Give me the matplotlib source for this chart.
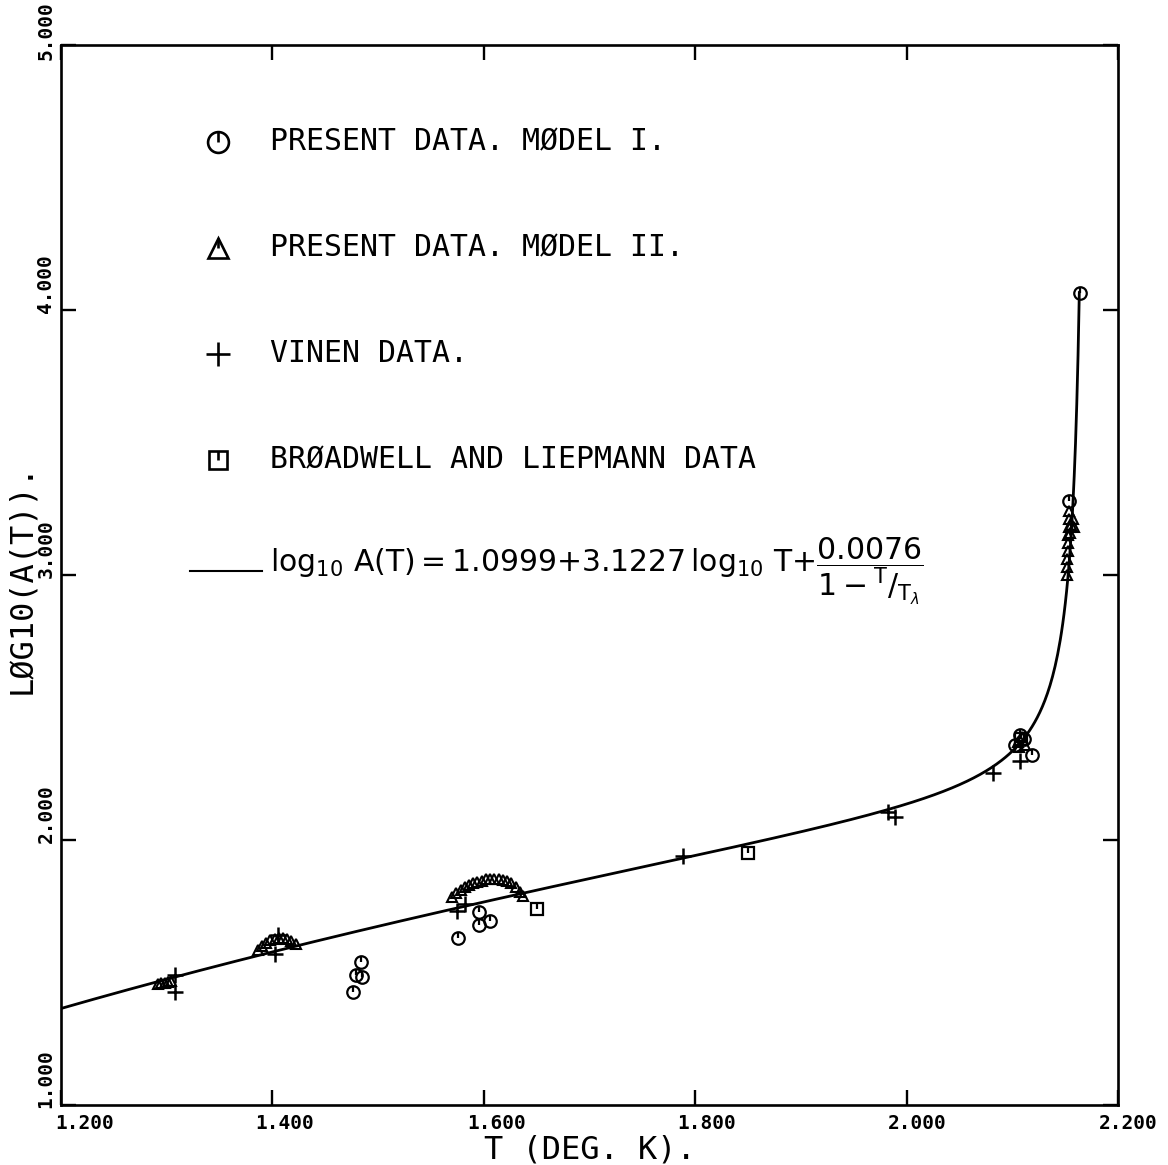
import numpy as np
import matplotlib
matplotlib.use('Agg')
import matplotlib.pyplot as plt
from matplotlib.path import Path
import matplotlib.transforms as mtransforms

plt.rcParams['font.family'] = ['DejaVu Sans Mono', 'DejaVu Sans']
plt.rcParams['mathtext.fontset'] = 'dejavusans'

# fit from the legend: log10 A = c0 + c1 log10 T + c2 / (1 - T/T_lambda)
c0, c1, c2, t_lambda = 1.0999, 3.1227, 0.0076, 2.172
t_start, t_end = 1.2, 2.1634

# present data, model I (circles)
m1_t = [1.476, 1.479, 1.484, 1.485, 1.576, 1.595, 1.595, 1.606,
        2.103, 2.107, 2.111, 2.119, 2.154, 2.164]
m1_y = [1.426, 1.490, 1.540, 1.483, 1.630, 1.728, 1.680, 1.694,
        2.360, 2.395, 2.380, 2.320, 3.280, 4.064]

# present data, model II (triangles)
m2_t = [1.292, 1.295, 1.298, 1.301, 1.304,
        1.386, 1.390, 1.394, 1.398, 1.402, 1.406, 1.410, 1.414, 1.418, 1.422,
        1.570, 1.574, 1.578, 1.582, 1.586, 1.590, 1.594, 1.598, 1.602,
        1.606, 1.610, 1.614, 1.618, 1.622, 1.626, 1.630, 1.634, 1.637,
        2.105, 2.106, 2.109, 2.112,
        2.1515, 2.1518, 2.1521, 2.1524, 2.1527, 2.1530, 2.1533, 2.1536, 2.1539,
        2.155, 2.156, 2.157, 2.158]
m2_y = [1.455, 1.460, 1.462, 1.465, 1.468,
        1.585, 1.600, 1.612, 1.622, 1.628, 1.631, 1.630, 1.626, 1.618, 1.606,
        1.785, 1.800, 1.812, 1.822, 1.830, 1.836, 1.842, 1.847, 1.851,
        1.853, 1.854, 1.853, 1.850, 1.845, 1.836, 1.822, 1.805, 1.790,
        2.370, 2.350, 2.390, 2.360,
        3.00, 3.03, 3.06, 3.09, 3.12, 3.15, 3.18, 3.21, 3.24,
        3.16, 3.19, 3.21, 3.18]

# Vinen data (plus)
vin_t = [1.308, 1.308, 1.405, 1.402, 1.575, 1.582, 1.788, 1.982, 1.989, 2.082, 2.107]
vin_y = [1.490, 1.426, 1.642, 1.570, 1.732, 1.758, 1.940, 2.105, 2.087, 2.253, 2.300]

# Broadwell and Liepmann data (squares)
bl_t = [1.650, 1.850, 2.108]
bl_y = [1.740, 1.950, 2.380]

x_ticks = [1.2, 1.4, 1.6, 1.8, 2.0, 2.2]
x_tick_labels = ['1.200', '1.400', '1.600', '1.800', '2.000', '2.200']
y_ticks = [1.0, 2.0, 3.0, 4.0, 5.0]
y_tick_labels = ['1.000', '2.000', '3.000', '4.000', '5.000']

tick_mark = Path([(0, 0), (0, 1)], [Path.MOVETO, Path.LINETO])


def symbol(ax, x, y, marker, ms, lw, tick=True):
    ax.plot(x, y, linestyle='none', marker=marker, ms=ms, mfc='none',
            mec='black', mew=lw, zorder=3)
    if tick:
        ax.plot(x, y, linestyle='none', marker=tick_mark, ms=ms, mfc='none',
                mec='black', mew=lw, zorder=3)


fig = plt.figure(figsize=(11.68, 11.65), dpi=100)
ax = fig.add_axes([61 / 1168, 60 / 1165, 1057 / 1168, 1060 / 1165])
ax.set_xlim(1.2, 2.2)
ax.set_ylim(1.0, 5.0)
for s in ax.spines.values():
    s.set_linewidth(1.9)

ax.set_xticks(x_ticks)
ax.set_yticks(y_ticks)
ax.tick_params(direction='in', length=11, width=1.7, top=True, right=True,
               labelbottom=False, labelleft=False)

# tick labels, plotter style
xt = mtransforms.blended_transform_factory(ax.transData, ax.transAxes)
x_shift = [0.022, 0.012, 0.012, 0.011, 0.010, 0.010]
for v, lab, dx in zip(x_ticks, x_tick_labels, x_shift):
    ax.text(v + dx, -0.017, lab, transform=xt, ha='center', va='center',
            fontsize=14, fontweight='bold', clip_on=False)
yt = mtransforms.blended_transform_factory(ax.transAxes, ax.transData)
y_shift = [-0.01, -0.01, -0.01, -0.01, -0.057]
for v, lab, dy in zip(y_ticks, y_tick_labels, y_shift):
    ax.text(-0.0142, v + dy, lab, transform=yt, rotation=90,
            rotation_mode='anchor', ha='left', va='center', fontsize=14,
            fontweight='bold', clip_on=False)

ax.text(0.5005, -0.0425, 'T (DEG. K).', transform=ax.transAxes, ha='center',
        va='center', fontsize=23)
ax.text(-0.0369, 0.497, 'LØG10(A(T)).', transform=ax.transAxes, rotation=90,
        ha='center', va='center', fontsize=23)

# fitted curve
T = np.linspace(t_start, t_end, 800)
logA = c0 + c1 * np.log10(T) + c2 / (1 - T / t_lambda)
ax.plot(T, logA, color='black', lw=2.0, zorder=2)

# data
symbol(ax, m2_t, m2_y, '^', 6.5, 1.5, tick=False)
symbol(ax, m1_t, m1_y, 'o', 9, 1.6)
symbol(ax, bl_t, bl_y, 's', 8.5, 1.6)
ax.plot(vin_t, vin_y, linestyle='none', marker='+', ms=11, mew=1.8,
        color='black', zorder=3)

# legend drawn by hand
lx, tx = 1.3485, 1.3977
legend_rows = [4.634, 4.234, 3.834, 3.434]
legend_text = ['PRESENT DATA. MØDEL I.', 'PRESENT DATA. MØDEL II.',
               'VINEN DATA.', 'BRØADWELL AND LIEPMANN DATA']
symbol(ax, [lx], [legend_rows[0]], 'o', 15, 1.9)
symbol(ax, [lx], [legend_rows[1]], '^', 15, 1.9)
ax.plot([lx], [legend_rows[2]], marker='+', ms=17, mew=1.9, color='black')
symbol(ax, [lx], [legend_rows[3]], 's', 13, 1.9)
for yy, lab in zip(legend_rows, legend_text):
    ax.text(tx, yy, lab, ha='left', va='center', fontsize=21.5)

ax.plot([1.322, 1.390], [3.015, 3.015], color='black', lw=1.5)
ax.text(tx, 3.015,
        r'$\log_{10}\,\mathrm{A(T)}{=}\mathrm{1.0999}{+}\mathrm{3.1227}\,\log_{10}\,\mathrm{T}{+}'
        r'\dfrac{\mathrm{0.0076}}{\mathrm{1}-{}^{\mathrm{T}}/_{\mathrm{T}_{\lambda}}}$',
        ha='left', va='center', fontsize=21.5, family='DejaVu Sans')

fig.savefig('out.png', dpi=100)
